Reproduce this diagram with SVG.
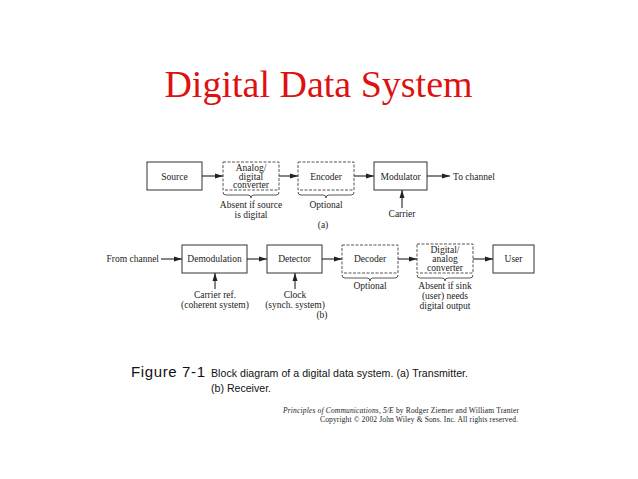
<svg xmlns="http://www.w3.org/2000/svg" width="638" height="479" viewBox="0 0 638 479">
<style>
.bx{fill:none;stroke:#333;stroke-width:1}
.dbx{fill:none;stroke:#555;stroke-width:1;stroke-dasharray:3 1.5}
.t{font-family:"Liberation Serif",serif;font-size:9.5px;fill:#222;text-anchor:middle}
.w{stroke:#222;stroke-width:1.1;fill:none}
.br{stroke:#444;stroke-width:0.9;fill:none}
.cap{font-family:"Liberation Sans",Arial,sans-serif;fill:#111}
.cr{font-family:"Liberation Serif",serif;font-size:7.5px;fill:#222;text-anchor:end}
</style>
<defs>
<marker id="ah" markerUnits="userSpaceOnUse" markerWidth="9" markerHeight="6" refX="8" refY="3" orient="auto">
<path d="M0,0.5 L8,3 L0,5.5 z" fill="#222"/>
</marker>
</defs>
<rect width="638" height="479" fill="#fff"/>
<text x="318.5" y="97" font-family="Liberation Serif,serif" font-size="38" fill="#dd1111" text-anchor="middle">Digital Data System</text>

<g id="source"><rect class="bx" x="147" y="162" width="55" height="28"/><text class="t" x="174.5" y="179.5">Source</text></g>
<g id="adc"><rect class="dbx" x="223" y="162" width="56" height="28"/><text class="t" x="251" y="170.5">Analog/</text><text class="t" x="251" y="179.5">digital</text><text class="t" x="251" y="188">converter</text>
<path class="br" d="M223,192 Q223,195 226,195 L248,195 Q251,195 251,198 Q251,195 254,195 L276,195 Q279,195 279,192"/>
<text class="t" x="251" y="208">Absent if source</text><text class="t" x="251" y="218">is digital</text></g>
<g id="encoder"><rect class="dbx" x="298" y="162" width="56" height="28"/><text class="t" x="326" y="179.5">Encoder</text>
<path class="br" d="M298,192 Q298,195 301,195 L323,195 Q326,195 326,198 Q326,195 329,195 L351,195 Q354,195 354,192"/>
<text class="t" x="326" y="208">Optional</text></g>
<g id="modulator"><rect class="bx" x="374" y="162" width="53" height="28"/><text class="t" x="400.5" y="179.5">Modulator</text></g>
<g id="tochannel"><text class="t" x="453" y="179.5" style="text-anchor:start">To channel</text></g>
<g id="carrier"><text class="t" x="402" y="217">Carrier</text></g>
<text class="t" x="323" y="228">(a)</text>

<g id="fromchannel"><text class="t" x="159" y="262" style="text-anchor:end">From channel</text></g>
<g id="demod"><rect class="bx" x="182" y="245" width="65" height="28"/><text class="t" x="214.5" y="262">Demodulation</text></g>
<g id="detector"><rect class="bx" x="267" y="245" width="55" height="28"/><text class="t" x="294.5" y="262">Detector</text></g>
<g id="decoder"><rect class="dbx" x="342" y="245" width="56" height="28"/><text class="t" x="370" y="262">Decoder</text>
<path class="br" d="M342,275 Q342,278 345,278 L367,278 Q370,278 370,281 Q370,278 373,278 L395,278 Q398,278 398,275"/>
<text class="t" x="370" y="289">Optional</text></g>
<g id="dac"><rect class="dbx" x="417" y="244" width="56" height="29"/><text class="t" x="445" y="253">Digital/</text><text class="t" x="445" y="262">analog</text><text class="t" x="445" y="270.5">converter</text>
<path class="br" d="M417,275 Q417,278 420,278 L442,278 Q445,278 445,281 Q445,278 448,278 L470,278 Q473,278 473,275"/>
<text class="t" x="445" y="289">Absent if sink</text><text class="t" x="445" y="299">(user) needs</text><text class="t" x="445" y="309">digital output</text></g>
<g id="user"><rect class="bx" x="493" y="245" width="41" height="28"/><text class="t" x="513.5" y="262">User</text></g>
<g id="carrierref"><text class="t" x="215" y="298">Carrier ref.</text><text class="t" x="215" y="308">(coherent system)</text></g>
<g id="clock"><text class="t" x="295" y="298">Clock</text><text class="t" x="295" y="308">(synch. system)</text></g>
<text class="t" x="322" y="318">(b)</text>

<g id="connectors">
<line class="w" x1="202" y1="176" x2="223" y2="176" marker-end="url(#ah)"/>
<line class="w" x1="279" y1="176" x2="298" y2="176" marker-end="url(#ah)"/>
<line class="w" x1="354" y1="176" x2="374" y2="176" marker-end="url(#ah)"/>
<line class="w" x1="427" y1="176" x2="450" y2="176" marker-end="url(#ah)"/>
<line class="w" x1="402" y1="208" x2="402" y2="190" marker-end="url(#ah)"/>
<line class="w" x1="161" y1="259" x2="182" y2="259" marker-end="url(#ah)"/>
<line class="w" x1="247" y1="259" x2="267" y2="259" marker-end="url(#ah)"/>
<line class="w" x1="322" y1="259" x2="342" y2="259" marker-end="url(#ah)"/>
<line class="w" x1="398" y1="259" x2="417" y2="259" marker-end="url(#ah)"/>
<line class="w" x1="473" y1="259" x2="493" y2="259" marker-end="url(#ah)"/>
<line class="w" x1="215" y1="289" x2="215" y2="273" marker-end="url(#ah)"/>
<line class="w" x1="295" y1="289" x2="295" y2="273" marker-end="url(#ah)"/>
</g>

<text class="cap" x="131" y="377" font-size="15" textLength="74" lengthAdjust="spacing">Figure 7-1</text>
<text class="cap" x="211" y="377" font-size="10.6" textLength="257" lengthAdjust="spacing">Block diagram of a digital data system. (a) Transmitter.</text>
<text class="cap" x="211" y="392" font-size="10.6">(b) Receiver.</text>
<text class="cr" x="519" y="413" textLength="236" lengthAdjust="spacing"><tspan font-style="italic">Principles of Communications, 5/E</tspan> by Rodger Ziemer and William Tranter</text>
<text class="cr" x="518" y="422" textLength="198" lengthAdjust="spacing">Copyright © 2002 John Wiley &amp; Sons. Inc. All rights reserved.</text>
</svg>
